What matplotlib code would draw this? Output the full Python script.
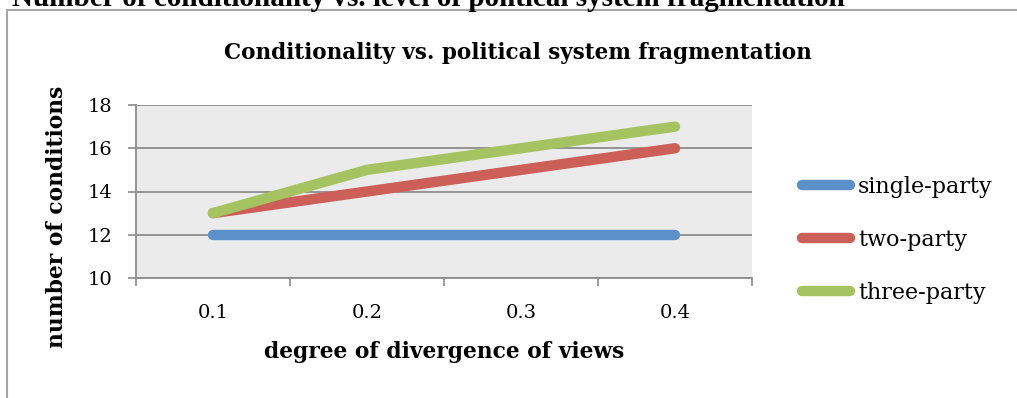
import matplotlib
matplotlib.use("Agg")
import matplotlib.pyplot as plt
from matplotlib.patches import Rectangle

categories = ["0.1", "0.2", "0.3", "0.4"]
single_party = [12, 12, 12, 12]
two_party = [13, 14, 15, 16]
three_party = [13, 15, 16, 17]

series = [
    ("single-party", single_party, "#5b90c8"),
    ("two-party", two_party, "#cc5f57"),
    ("three-party", three_party, "#a5c360"),
]

W, H = 1017, 398
fig = plt.figure(figsize=(W / 100, H / 100), dpi=100)
fig.patch.set_facecolor("white")

# outer chart frame (runs off the right and bottom of the crop)
fig.patches.append(Rectangle((7 / W, -0.1), 1.2, (H - 10) / H + 0.1,
                             transform=fig.transFigure, fill=False,
                             edgecolor="#a6a6a6", linewidth=1.5))

# document caption, cut off at the top
fig.text(12 / W, 1 - 5.5 / H, "Number of conditionality vs. level of political system fragmentation",
         family="Liberation Serif", weight="bold", fontsize=21, va="baseline", ha="left")

ax = fig.add_axes([136 / W, 1 - 278 / H, 616 / W, 173 / H])
ax.set_facecolor("#ebebeb")

x = list(range(1, len(categories) + 1))
for name, vals, col in series:
    ax.plot(x, vals, color=col, linewidth=7.5, solid_capstyle="round",
            solid_joinstyle="round", label=name, zorder=3)

ax.set_xlim(0.5, len(categories) + 0.5)
ax.set_ylim(10, 18)
ax.set_yticks([10, 12, 14, 16, 18])
ax.set_xticks(x)
ax.set_xticklabels(categories)
ax.set_xticks([i + 0.5 for i in range(len(categories) + 1)], minor=True)
ax.tick_params(axis="x", which="major", length=0, pad=19)
ax.tick_params(axis="x", which="minor", length=6, width=1.2, color="#8c8c8c")
ax.tick_params(axis="y", length=6, width=1.2, color="#8c8c8c", pad=11)
for lab in ax.get_xticklabels() + ax.get_yticklabels():
    lab.set_family("DejaVu Serif")
    lab.set_fontsize(14)

ax.grid(axis="y", color="#8c8c8c", linewidth=1.3, zorder=1)
ax.set_axisbelow(True)
for s in ["top", "right"]:
    ax.spines[s].set_visible(False)
for s in ["left", "bottom"]:
    ax.spines[s].set_color("#8c8c8c")
    ax.spines[s].set_linewidth(1.3)

fig.text(518 / W, 1 - 53 / H, "Conditionality vs. political system fragmentation",
         family="DejaVu Serif", weight="bold", fontsize=15.5, ha="center", va="center")
fig.text(57 / W, 1 - 217 / H, "number of conditions", rotation=90,
         family="DejaVu Serif", weight="bold", fontsize=15.7, ha="center", va="center")
fig.text(444 / W, 1 - 352 / H, "degree of divergence of views",
         family="DejaVu Serif", weight="bold", fontsize=15.7, ha="center", va="center")

leg = fig.legend(loc="center left", bbox_to_anchor=(802 / W, 1 - 240 / H),
                 frameon=False, handlelength=2.16, handletextpad=0.36,
                 labelspacing=1.4, borderaxespad=0, borderpad=0,
                 prop={"family": "DejaVu Serif", "size": 16})

fig.savefig("out.png", dpi=100)
